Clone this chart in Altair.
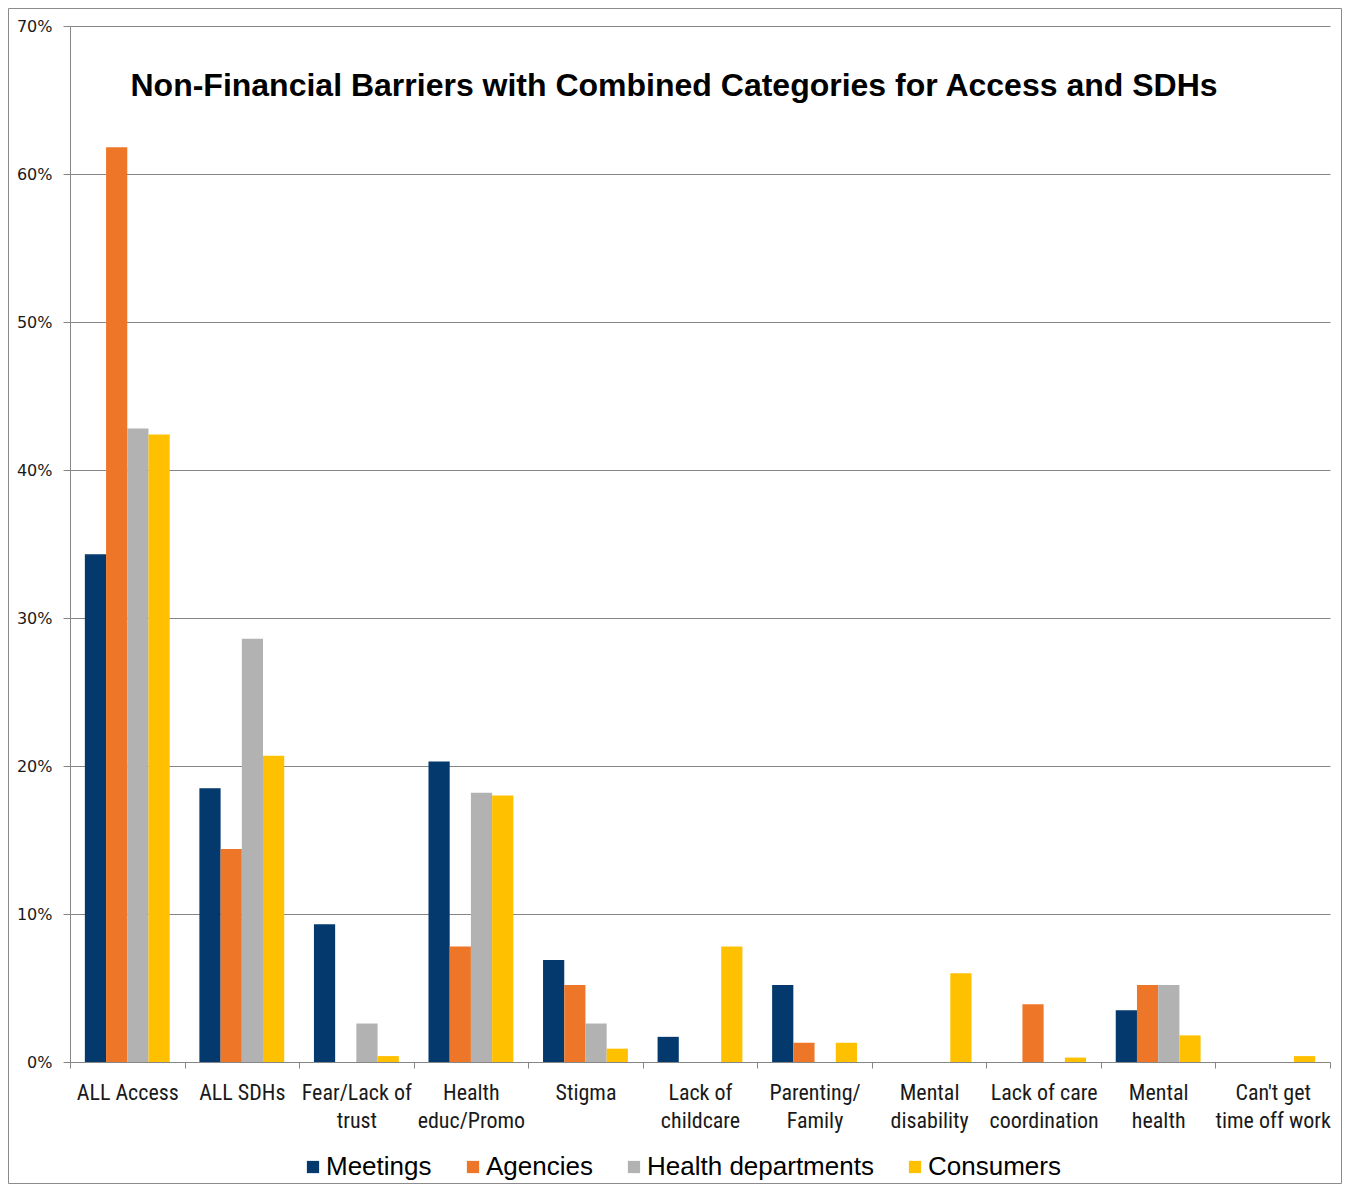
import altair as alt
import pandas as pd

categories = ["ALL Access", "ALL SDHs", "Fear/Lack of|trust", "Health|educ/Promo", "Stigma",
              "Lack of|childcare", "Parenting/|Family", "Mental|disability",
              "Lack of care|coordination", "Mental|health", "Can't get|time off work"]
series = ["Meetings", "Agencies", "Health departments", "Consumers"]
colors = ["#03396C", "#ED7629", "#B2B2B2", "#FFC000"]

meetings = [34.3, 18.5, 9.3, 20.3, 6.9, 1.7, 5.2, 0.0, 0.0, 3.5, 0.0]
agencies = [61.8, 14.4, 0.0, 7.8, 5.2, 0.0, 1.3, 0.0, 3.9, 5.2, 0.0]
health_departments = [42.8, 28.6, 2.6, 18.2, 2.6, 0.0, 0.0, 0.0, 0.0, 5.2, 0.0]
consumers = [42.4, 20.7, 0.4, 18.0, 0.9, 7.8, 1.3, 6.0, 0.3, 1.8, 0.4]

y_ticks = [0, 0.1, 0.2, 0.3, 0.4, 0.5, 0.6, 0.7]

rows = []
for s, vals in zip(series, [meetings, agencies, health_departments, consumers]):
    for c, v in zip(categories, vals):
        rows.append({"category": c, "series": s, "value": v / 100})
df = pd.DataFrame(rows)

W, H = 1260, 1036
grid_col = "#868686"

bars = alt.Chart(df).mark_bar().encode(
    x=alt.X("category:N", sort=categories,
            scale=alt.Scale(paddingInner=0, paddingOuter=0),
            axis=alt.Axis(title=None, labelAngle=0, tickBand="extent",
                          labelExpr="split(datum.label, '|')",
                          labelFont="Liberation Sans Narrow, Arial Narrow, Roboto Condensed, DejaVu Sans Condensed, sans-serif",
                          labelFontSize=22, labelLineHeight=28, labelColor="#1a1a1a",
                          labelPadding=14, tickSize=6, tickColor=grid_col,
                          domainColor=grid_col, grid=False, labelOverlap=False)),
    xOffset=alt.XOffset("series:N", sort=series,
                        scale=alt.Scale(paddingInner=0, paddingOuter=0.7)),
    y=alt.Y("value:Q", scale=alt.Scale(domain=[0, 0.7], nice=False),
            axis=alt.Axis(title=None, format=".0%", values=y_ticks,
                          labelFont="DejaVu Sans", labelFontSize=16, labelColor="#1a1a1a",
                          labelPadding=11, tickSize=7, tickColor=grid_col,
                          domainColor=grid_col, gridColor=grid_col, grid=True)),
    color=alt.Color("series:N", sort=series,
                    scale=alt.Scale(domain=series, range=colors),
                    legend=alt.Legend(title=None, orient="none", direction="horizontal",
                                      legendX=230, legendY=1128, padding=0,
                                      symbolType="square", symbolSize=150, symbolStrokeWidth=0,
                                      labelFont="Liberation Sans", labelFontSize=26,
                                      labelLimit=600,
                                      labelColor="#000000", labelOffset=0, columnPadding=28)),
)

border = alt.Chart(alt.Data(values=[{}])).mark_rect(filled=False, stroke="#8c8c8c", strokeWidth=1).encode(
    x=alt.value(-61.5), x2=alt.value(1271.5), y=alt.value(-17.5), y2=alt.value(1157.5)
)

chart = alt.layer(border, bars).properties(
    width=W, height=H,
    title=alt.TitleParams(
        "Non-Financial Barriers with Combined Categories for Access and SDHs",
        font="Liberation Sans", fontSize=32, fontWeight="bold", color="#000000",
        anchor="middle", dx=-26, dy=99),
    autosize=alt.AutoSizeParams(type="none"),
    padding={"left": 62, "top": 18, "right": 12, "bottom": 122},
).configure_view(strokeOpacity=0)

chart.save("out.html", embed_options={"renderer": "svg", "actions": False})
